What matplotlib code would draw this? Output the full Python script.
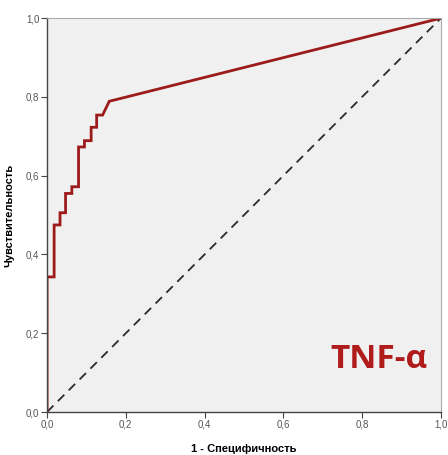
import numpy as np
import matplotlib.pyplot as plt
from matplotlib.ticker import FuncFormatter

plt.rcParams['font.family'] = ['Liberation Sans', 'DejaVu Sans']

# ROC curve points (1 - specificity, sensitivity)
fpr = [0.0, 0.0, 0.018, 0.018, 0.033, 0.033, 0.047, 0.047, 0.063, 0.063,
       0.080, 0.080, 0.095, 0.095, 0.112, 0.112, 0.126, 0.126, 0.141,
       0.158, 1.0]
tpr = [0.0, 0.343, 0.343, 0.475, 0.475, 0.506, 0.506, 0.555, 0.555, 0.572,
       0.572, 0.673, 0.673, 0.689, 0.689, 0.723, 0.723, 0.754, 0.754,
       0.789, 1.0]
ref_line = [0.0, 1.0]
ticks = [0.0, 0.2, 0.4, 0.6, 0.8, 1.0]

fig = plt.figure(figsize=(4.48, 4.55), dpi=100)
ax = fig.add_axes([0.105, 0.0945, 0.879, 0.8655])
ax.set_facecolor("#f0f0f0")

# reference diagonal
ax.plot(ref_line, ref_line, color="#2a2a2a", lw=1.3, ls=(0, (5, 3.5)))
# roc curve
ax.plot(fpr, tpr, color="#9c1a1a", lw=2.0, solid_joinstyle="miter")

ax.set_xlim(0, 1)
ax.set_ylim(0, 1)
ax.set_xticks(ticks)
ax.set_yticks(ticks)
fmt = FuncFormatter(lambda v, p: f"{v:.1f}".replace(".", ","))
ax.xaxis.set_major_formatter(fmt)
ax.yaxis.set_major_formatter(fmt)
ax.tick_params(direction="out", length=4, width=0.8, labelsize=7,
               labelcolor="#555555", color="#444444", pad=1.5)

for side in ["left", "bottom"]:
    ax.spines[side].set_color("#444444")
    ax.spines[side].set_linewidth(1.0)
for side in ["top", "right"]:
    ax.spines[side].set_color("#aaaaaa")
    ax.spines[side].set_linewidth(0.8)

ax.set_xlabel("1 - Специфичность", fontsize=8, fontweight="bold", labelpad=10)
ax.set_ylabel("Чувствительность", fontsize=8, fontweight="bold", labelpad=8)

ax.text(0.843, 0.133, "TNF-α", color="#b01c1c", fontsize=24, fontweight="bold",
        ha="center", va="center", transform=ax.transAxes,
        family=["Open Sans", "DejaVu Sans"])

fig.savefig("out.png", dpi=100)
